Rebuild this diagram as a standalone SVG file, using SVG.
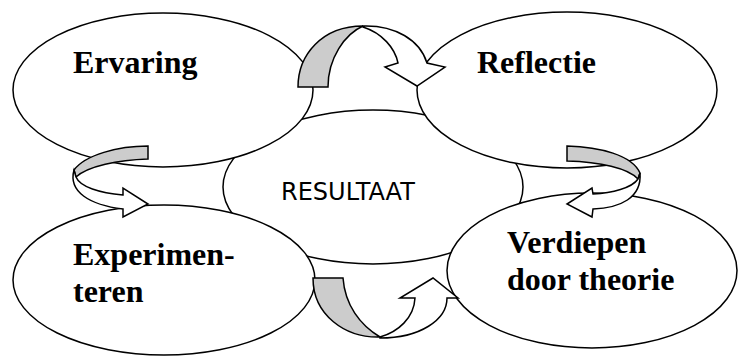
<svg xmlns="http://www.w3.org/2000/svg" width="738" height="356" viewBox="0 0 738 356">
<style>
.el{fill:#fff;stroke:#000;stroke-width:1.5}
.gr{fill:#cccccc;stroke:#000;stroke-width:1.5;stroke-linejoin:miter}
.wh{fill:#fff;stroke:#000;stroke-width:1.5;stroke-linejoin:miter}
.lbl{font-family:"Liberation Serif","Times New Roman",serif;font-weight:bold;font-size:32px;fill:#000}
.ctr{font-family:"DejaVu Sans",Verdana,sans-serif;font-size:24px;fill:#000}
</style>
<rect width="738" height="356" fill="#fff"/>
<g id="resultaat">
<ellipse class="el" cx="373" cy="187" rx="150" ry="77"/>
<text class="ctr" x="281" y="200">RESULTAAT</text>
</g>
<g id="ervaring">
<ellipse class="el" cx="163" cy="90" rx="150" ry="77"/>
<text class="lbl" x="73" y="73">Ervaring</text>
</g>
<g id="reflectie">
<ellipse class="el" cx="567" cy="90" rx="150" ry="78"/>
<text class="lbl" x="477" y="73">Reflectie</text>
</g>
<g id="experimenteren">
<ellipse class="el" cx="164" cy="280" rx="151" ry="75"/>
<text class="lbl" x="73" y="265">Experimen-</text>
<text class="lbl" x="73" y="302">teren</text>
</g>
<g id="verdiepen">
<ellipse class="el" cx="592" cy="270.5" rx="145" ry="77.5"/>
<text class="lbl" x="507" y="253">Verdiepen</text>
<text class="lbl" x="507" y="290">door theorie</text>
</g>
<g id="connectors">
<g id="arrow-top">
<path class="gr" d="M298,87 C298,55 322,26 363,26 C345,34 328,58 328,87 Z"/>
<path class="wh" d="M363,26 C395,25 420,40 427,63 L445,67 L417,86 L385,67 L398,63 C395,48 382,33 363,27 Z"/>
</g>
<g id="arrow-right">
<path class="gr" d="M567,146 C600,147 632,155 640,173 L638,179 C628,168 600,162 567,161 Z"/>
<path class="wh" d="M640,173 C642,198 620,208 593,209 L592,217 L567,204 L592,188 L593,194 C612,193 632,188 638,179 Z"/>
</g>
<g id="arrow-bottom">
<path class="gr" d="M313,278 L343,278 C345,305 360,325 380,337 C345,338 313,315 313,278 Z"/>
<path class="wh" d="M380,338 C420,338 447,320 447,298 L458,298 L433,278 L400,298 L415,298 C414,318 398,332 380,337 Z"/>
</g>
<g id="arrow-left">
<path class="gr" d="M148,146 C118,146 85,155 74,170 L76,177 C88,166 118,160 148,159 Z"/>
<path class="wh" d="M74,170 C68,192 90,205 123,209 L123,217 L148,204 L123,188 L123,195 C100,193 80,187 76,177 Z"/>
</g>
</g>
</svg>
